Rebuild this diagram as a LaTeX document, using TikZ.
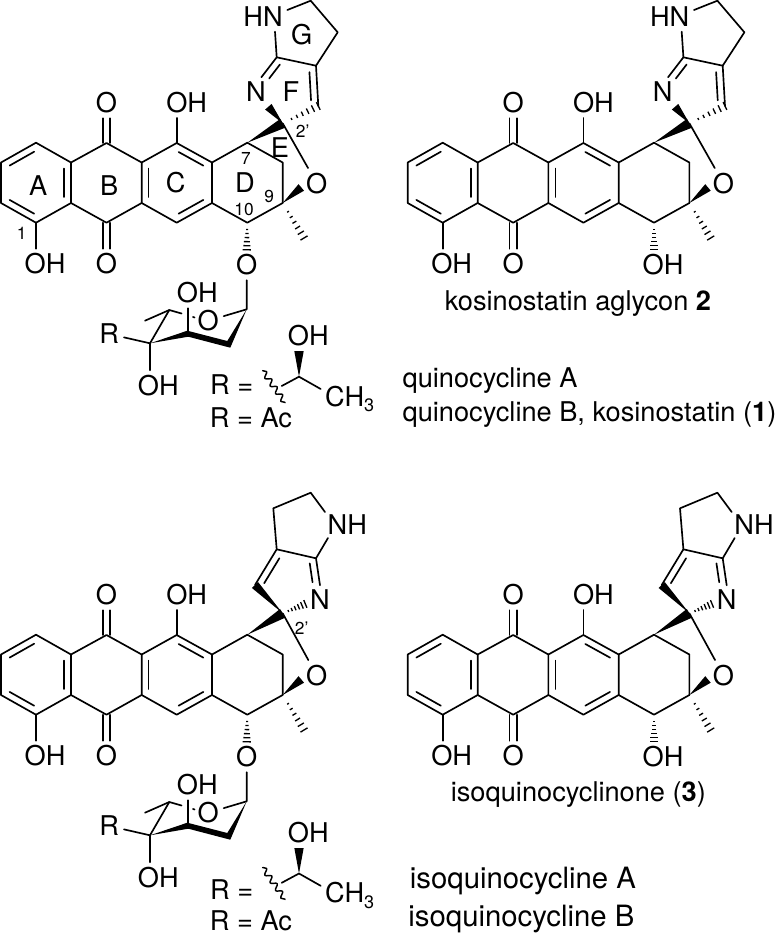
\documentclass[tikz,border=0pt]{standalone}
\usepackage{fontspec}
\setmainfont{TeX Gyre Heros}
\usetikzlibrary{calc,decorations.pathmorphing}
\tikzset{every picture/.style={line width=1.25pt,line cap=round,line join=round}}
\tikzset{atomlabel/.style={font=\fontsize{20.4}{24}\selectfont,inner sep=3pt}}
\tikzset{locant/.style={font=\fontsize{13}{15}\selectfont,inner sep=0pt}}
\tikzset{ringlabel/.style={font=\fontsize{20.4}{24}\selectfont,inner sep=0pt}}
\tikzset{caption/.style={font=\fontsize{20.4}{24}\selectfont,inner sep=0pt,anchor=base west}}
\tikzset{bigcaption/.style={caption,font=\fontsize{22}{26}\selectfont}}

% bond shapes
\newcommand{\innerbond}[2]{\draw ($(#1)!.15!(#2)!5.2pt!-90:(#2)$) -- ($(#2)!.15!(#1)!5.2pt!90:(#1)$);}
\newcommand{\carbonyl}[2]{\draw ($(#1)!2.7pt!90:(#2)$) -- ($(#2)!2.7pt!-90:(#1)$); \draw ($(#1)!2.7pt!-90:(#2)$) -- ($(#2)!2.7pt!90:(#1)$);}
\newcommand{\wedgebond}[3]{\fill (#1) -- ($(#2)!#3!90:(#1)$) -- ($(#2)!#3!-90:(#1)$) -- cycle;}
\newcommand{\hashbond}[3]{\foreach \hpos in {.25,.4,.55,.7,.85,1}{\pgfmathsetmacro\hwid{\hpos*#3}\draw[line width=1pt,line cap=butt] ($(#1)!\hpos!(#2)!\hwid pt!90:(#1)$) -- ($(#1)!\hpos!(#2)!\hwid pt!-90:(#1)$);}}

% anthracenone core with rings A-E
\newcommand{\drawcore}{
\coordinate (a1) at (36,142.7); \coordinate (a2) at (1,162.5); \coordinate (a3) at (1,203);
\coordinate (a4) at (36,222.7); \coordinate (a5) at (71,203); \coordinate (a6) at (71,162.5);
\coordinate (b1) at (106.5,143); \coordinate (b2) at (106.5,222.7);
\coordinate (b3) at (141.7,162.5); \coordinate (b4) at (141.7,203);
\coordinate (c1) at (176.7,143); \coordinate (c2) at (212,162.5);
\coordinate (c3) at (212,203); \coordinate (c4) at (176.7,222.7);
\coordinate (d1) at (247.3,142.7); \coordinate (d2) at (282.7,162.5);
\coordinate (d3) at (282.7,203); \coordinate (d4) at (247.3,222.7);
\coordinate (me) at (304,238);
\node (otop) at (106.5,103) [atomlabel] {O};
\node (obot) at (106.5,264) [atomlabel] {O};
\node (ohtop) at (186.7,102.7) [atomlabel] {OH};
\node (ohbot) at (45,264) [atomlabel] {OH};
\node (oring) at (316.7,183.3) [atomlabel] {O};
\draw (a1) -- (a2) -- (a3) -- (a4) -- (a5) -- (a6) -- cycle;
\innerbond{a1}{a2} \innerbond{a3}{a4} \innerbond{a5}{a6}
\draw (a6) -- (b1) -- (b3) -- (b4) -- (b2) -- (a5);
\draw (b3) -- (c1) -- (c2) -- (c3) -- (c4) -- (b4);
\innerbond{b3}{b4} \innerbond{c2}{c1} \innerbond{c4}{c3}
\draw (c2) -- (d1) -- (d2) -- (d3) -- (d4) -- (c3);
\carbonyl{b1}{otop.south} \carbonyl{b2}{obot.north}
\draw (c1) -- (c1 |- ohtop.south); \draw (a4) -- (a4 |- ohbot.north);
\wedgebond{d3}{oring.195}{3.2pt}
\hashbond{d3}{me}{3.1}
}

% rings F and G, pointing to the left and up
\newcommand{\drawringsup}{
\coordinate (sp) at (282.7,123.3); \coordinate (cn) at (276.7,57.3);
\coordinate (c3a) at (316,65.7); \coordinate (ch) at (318.3,106);
\coordinate (g1) at (337.7,32.3); \coordinate (g2) at (310.7,.7);
\coordinate (hnb) at (275,31.7); \coordinate (hnr) at (287.3,10);
\node (hn) at (263,17) [atomlabel] {HN};
\node (nim) at (256,92) [atomlabel] {N};
\draw (cn) -- (nim.70); \innerbond{cn}{nim.70}
\draw (cn) -- (hnb); \draw (hnr) -- (g2) -- (g1) -- (c3a) -- (cn);
\draw (ch) -- (c3a); \innerbond{ch}{c3a}
\wedgebond{d1}{sp}{3.8pt}
\wedgebond{sp}{nim.-50}{3.2pt}
\hashbond{sp}{ch}{3.2}
\draw (sp) -- (oring);
}

% rings F and G, pointing to the right
\newcommand{\drawringsdown}{
\coordinate (sp) at (282.7,121.3); \coordinate (ch) at (255,93);
\coordinate (c3a) at (276.7,57.3); \coordinate (cn) at (316,66.3);
\coordinate (g1) at (273.3,16.3); \coordinate (g2) at (310.7,.7);
\coordinate (nhb) at (328,46); \coordinate (nhl) at (325,20);
\node (nh) at (347.3,33) [atomlabel] {NH};
\node (nim) at (320,108) [atomlabel] {N};
\draw (ch) -- (c3a); \innerbond{c3a}{ch}
\draw (c3a) -- (cn) -- (nhb); \draw (nhl) -- (g2) -- (g1) -- (c3a);
\draw (cn) -- (nim.90); \innerbond{nim.90}{cn}
\wedgebond{d1}{sp}{3.8pt}
\wedgebond{sp}{ch}{3.2pt}
\hashbond{sp}{nim.195}{3.1}
\draw (sp) -- (oring);
}

% free hydroxyl at C10
\newcommand{\drawhydroxyl}{
\node (ohten) at (256.3,264.5) [atomlabel] {OH};
\hashbond{d4}{d4 |- ohten.north}{3.1}
}

% sugar with its glycosidic oxygen
\newcommand{\drawsugar}{
\node (oglyc) at (246.7,265) [atomlabel] {O};
\hashbond{d4}{oglyc.north}{3.1}
\coordinate (s1) at (246.7,309.3); \coordinate (s2) at (229,345);
\coordinate (s3) at (188,333.5); \coordinate (s4) at (150,343.3);
\coordinate (s5) at (169.3,310); \coordinate (s6) at (145,320.7);
\coordinate (s7) at (181.5,313.5); \coordinate (s8) at (193,317);
\coordinate (s9) at (194.5,317.5);
\node (osug) at (208.3,320.7) [atomlabel] {O};
\node (ohsug) at (197.3,293) [atomlabel] {OH};
\node (ohfour) at (158.3,385.5) [atomlabel] {OH};
\node (rfour) at (109.3,334) [atomlabel] {R};
\draw (oglyc) -- (s1) -- (osug);
\fill (s4) -- (187.3,330.7) -- (227.3,341) -- (s1) -- (230.3,347.7) -- (188.3,336.7) -- cycle;
\draw (s4) -- (s5) -- (s7); \draw (s5) -- (s6); \draw (s8) -- (s9);
\draw (s3) -- (s3 |- ohsug.south);
\draw (rfour) -- (s4);
\draw (s4) -- (s4 |- ohfour.north);
}

% side chain and the two values of R
\newcommand{\drawchain}[3]{
\begin{scope}[shift={(0,#1)}]
\coordinate (w1) at (262.7,370.7); \coordinate (w2) at (285,402.7);
\coordinate (w3) at (281.7,386); \coordinate (k1) at (299,376.7);
\coordinate (k2) at (320.7,389);
\node (ohk) at (308.3,336) [atomlabel] {OH};
\node (chthree) at (324.3,406) [caption] {CH\raisebox{-.22em}{\fontsize{13.5}{15}\selectfont 3}};
\draw (w3) -- (k1) -- (k2);
\wedgebond{k1}{k1 |- ohk.south}{3.5pt}
\draw[line width=1.1pt,decorate,decoration={snake,segment length=7pt,amplitude=2pt}] (w1) -- (w2);
\end{scope}
\node (req) at (231.7,385+#2) [atomlabel] {R =};
\node (rac) at (251,417.3+#3) [atomlabel,inner sep=0pt] {R = Ac};
}

\begin{document}
\begin{tikzpicture}[x=0.75pt,y=0.75pt,yscale=-1,xscale=1]
\useasboundingbox (0,0) rectangle (780,933);

%quinocycline, top left
\begin{scope}[name prefix=q-]
\drawcore
\drawringsup
\drawsugar
\drawchain{0}{0}{0}
\node (la) at (38.3,186) [ringlabel] {A};
\node (lb) at (109.3,186) [ringlabel] {B};
\node (lc) at (175.7,182.7) [ringlabel] {C};
\node (ld) at (245,182.7) [ringlabel] {D};
\node (le) at (280,147.7) [ringlabel] {E};
\node (lf) at (291,91.7) [ringlabel] {F};
\node (lg) at (301.7,34.3) [ringlabel] {G};
\node (n1) at (21.7,233.3) [locant] {1};
\node (n7) at (246,158.3) [locant] {7};
\node (n10) at (244,209.3) [locant] {10};
\node (n9) at (269.3,196.7) [locant] {9};
\node (n2) at (302.7,130.7) [locant] {2’};
\end{scope}

%kosinostatin aglycon, top right
\begin{scope}[shift={(406.7,0)},name prefix=k-]
\drawcore
\drawringsup
\drawhydroxyl
\end{scope}

%isoquinocycline, bottom left
\begin{scope}[shift={(0,492)},name prefix=i-]
\drawcore
\drawringsdown
\drawsugar
\drawchain{4.8}{13}{11.5}
\node (n2) at (301.7,136.3) [locant] {2’};
\end{scope}

%isoquinocyclinone, bottom right
\begin{scope}[shift={(406.7,492)},name prefix=n-]
\drawcore
\drawringsdown
\drawhydroxyl
\end{scope}

% Text Node
\node (capk) at (444,310) [caption] {kosinostatin aglycon \textbf{2}};
\node (capqa) at (401.7,387.7) [caption] {quinocycline A};
\node (capqb) at (401.7,421) [caption] {quinocycline B, kosinostatin (\textbf{1})};
\node (capn) at (450,801.7) [caption] {isoquinocyclinone (\textbf{3})};
\node (capia) at (409,888.3) [bigcaption] {isoquinocycline A};
\node (capib) at (407.5,926) [bigcaption] {isoquinocycline B};
\end{tikzpicture}
\end{document}
